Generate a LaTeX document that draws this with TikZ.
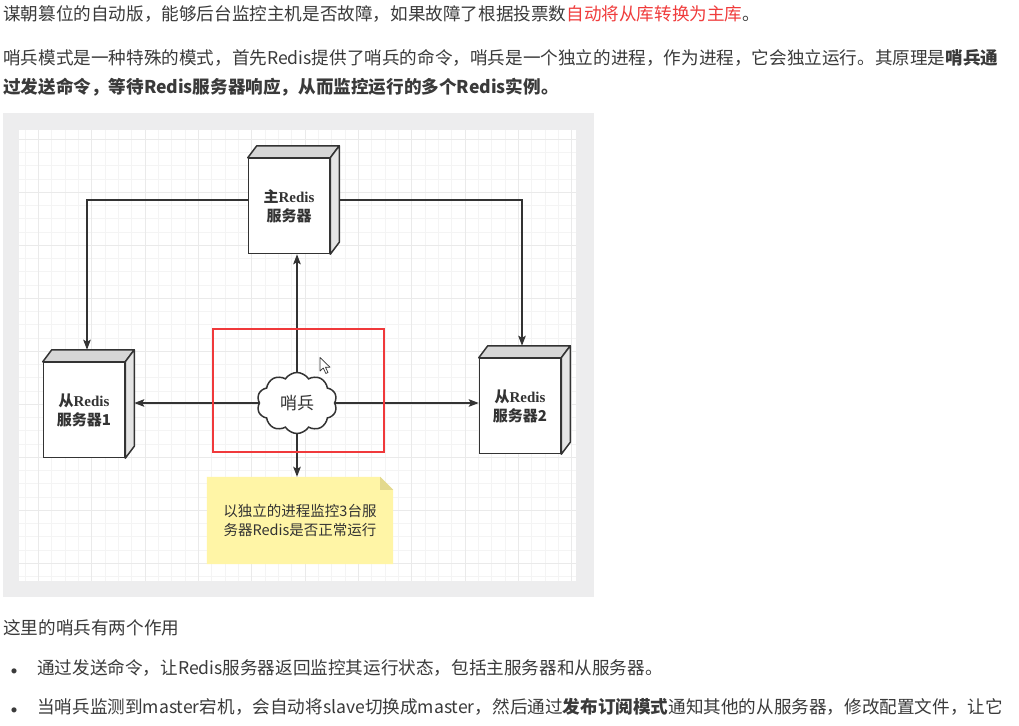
\documentclass[tikz,border=0pt]{standalone}
\usepackage{fontspec}
\setmainfont{Noto Sans CJK SC}
\newfontfamily\serifrm{Liberation Serif}
\usetikzlibrary{shapes.symbols,arrows.meta,calc}
\definecolor{ink}{HTML}{333333}
\definecolor{txt}{HTML}{3A3A3A}
\definecolor{redt}{HTML}{F03C3C}
\definecolor{redbox}{HTML}{F0393B}
\definecolor{frameg}{HTML}{EDEDEE}
\definecolor{gminor}{HTML}{F4F4F4}
\definecolor{gmajor}{HTML}{EAEAEA}
\definecolor{topface}{HTML}{D6D6D6}
\definecolor{sideface}{HTML}{E4E4E4}
\definecolor{notey}{HTML}{FFF5A6}
\definecolor{foldc}{HTML}{E3D98E}
\pgfdeclarelayer{back}
\pgfsetlayers{back,main}
\tikzset{
  para/.style={anchor=base west,inner sep=0pt,text=txt,font=\fontsize{17.6}{22}\selectfont},
  bul/.style={anchor=base,text=txt,inner sep=0pt,font=\fontsize{24}{24}\selectfont},
  cubefront/.style={draw=ink,fill=white,line width=1.5pt,minimum width=81,minimum height=95,inner sep=0pt,align=center,text=ink,font=\fontsize{15}{19}\selectfont\bfseries},
  cubeface/.style={draw=ink,line width=1.5pt,line join=round},
  arr/.style={draw=ink,line width=1.5pt,-{Stealth[length=10pt,width=7.5pt,inset=2pt]}},
  gridmin/.style={draw=gminor,line width=0.9pt},
  gridmaj/.style={draw=gmajor,line width=0.9pt},
}
\newcommand\rcube[4]{%
  \node[cubefront] (#1) at (#2,#3) {#4};
  \filldraw[cubeface,fill=topface] (#1.north west) -- ++(9,-12) -- ($(#1.north east)+(9,-12)$) -- (#1.north east) -- cycle;
  \filldraw[cubeface,fill=sideface] (#1.north east) -- ++(9,-12) -- ($(#1.south east)+(9,-12)$) -- (#1.south east) -- cycle;
}
\newcommand\rds{{\serifrm\bfseries Redis}}
\begin{document}
\begin{tikzpicture}[x=1pt,y=-1pt]
\useasboundingbox (0,0) rectangle (1019,725);
% frame and grid
\begin{pgfonlayer}{back}
\fill[white] (0,0) rectangle (1019,725);
\fill[frameg] (3,113) rectangle (594,597);
\fill[white] (19,130) rectangle (576,581);
\begin{scope}
\clip (19,130) rectangle (576,581);
\foreach \i in {-2,...,42} \draw[gridmin] ({38.6+13.333*\i},130) -- ++(0,451);
\foreach \j in {-2,...,35} \draw[gridmin] (19,{139.3+13.25*\j}) -- ++(557,0);
\foreach \i in {0,...,10} \draw[gridmaj] ({38.6+53.333*\i},130) -- ++(0,451);
\foreach \j in {0,...,8} \draw[gridmaj] (19,{139.3+53*\j}) -- ++(557,0);
\end{scope}
\end{pgfonlayer}

% text above
\node[para] (t1) at (3,21) {谋朝篡位的自动版，能够后台监控主机是否故障，如果故障了根据投票数\textcolor{redt}{自动将从库转换为主库}。};
\node[para] (t2) at (3,64) {哨兵模式是一种特殊的模式，首先Redis提供了哨兵的命令，哨兵是一个独立的进程，作为进程，它会独立运行。其原理是\textbf{哨兵通}};
\node[para,font=\fontsize{17.6}{22}\selectfont\bfseries] (t3) at (3,93) {过发送命令，等待Redis服务器响应，从而监控运行的多个Redis实例。};

% cubes
\rcube{main}{289}{206}{主\rds\\服务器}
\rcube{s1}{84}{410}{从\rds\\服务器1}
\rcube{s2}{520}{406}{从\rds\\服务器2}

% cloud
\node[cloud,draw=ink,fill=white,line width=1.5pt,cloud puffs=10,cloud puff arc=115,aspect=1.3,minimum width=80,minimum height=61,inner sep=0pt,text=ink,font=\fontsize{17}{20}\selectfont] (cloud) at (297,403) {哨兵};

% note
\node[minimum width=186,minimum height=87,inner sep=0pt,align=center,text=ink,font=\fontsize{14.5}{19}\selectfont] (note) at (300,520.5) {以独立的进程监控3台服\\务器Redis是否正常运行};
\begin{pgfonlayer}{back}
\fill[notey] (note.north west) -- ($(note.north east)+(-13,0)$) -- ($(note.north east)+(0,13)$) -- (note.south east) -- (note.south west) -- cycle;
\fill[foldc] ($(note.north east)+(-13,0)$) -- ($(note.north east)+(0,13)$) -- ($(note.north east)+(-13,13)$) -- cycle;
\end{pgfonlayer}

% connector end points
\coordinate (s1t) at ($(s1.north)+(3,-12)$);
\coordinate (s2t) at ($(s2.north)+(2,-12)$);
\coordinate (s1r) at ($(s1.east)+(9,0)$);
\coordinate (mw) at ($(main.west)+(0,-6)$);
\coordinate (me) at ($(main.east)+(9,-6)$);

% connectors
\draw[arr] (cloud.north) -- (cloud.north |- main.south);
\draw[arr] (cloud.west) -- (cloud.west -| s1r);
\draw[arr] (cloud.east) -- (cloud.east -| s2.west);
\draw[arr] (cloud.south) -- (cloud.south |- note.north);
\draw[arr] (mw) -| (s1t);
\draw[arr] (me) -| (s2t);

% highlight box
\draw[redbox,line width=2pt] (213,329) rectangle (384,452);

% mouse cursor
\filldraw[fill=white,draw=ink,line width=0.7pt,line join=round] (320,357.5) -- (320,371) -- (323.3,368) -- (325.8,373.5) -- (328,372.5) -- (325.5,367.2) -- (330,367.2) -- cycle;

% text below
\node[para] (t4) at (3,634) {这里的哨兵有两个作用};
\node[bul] (b1) at (14,680) {•};
\node[para] (t5) at (37,674) {通过发送命令，让Redis服务器返回监控其运行状态，包括主服务器和从服务器。};
\node[bul] (b2) at (14,719) {•};
\node[para] (t6) at (37,713) {当哨兵监测到master宕机，会自动将slave切换成master，然后通过\textbf{发布订阅模式}通知其他的从服务器，修改配置文件，让它};
\end{tikzpicture}
\end{document}
